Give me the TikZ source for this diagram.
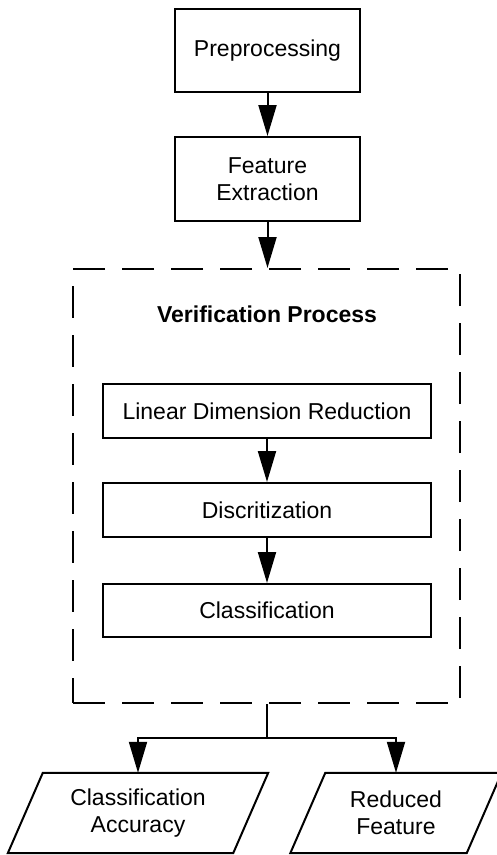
\documentclass[tikz,border=0pt]{standalone}
\usepackage{fontspec}
\setmainfont{Liberation Sans}
\usetikzlibrary{arrows.meta}
\begin{document}
\begin{tikzpicture}[x=1pt,y=-1pt,
  every node/.style={font=\fontsize{23}{27}\selectfont, align=center, inner sep=0pt},
  box/.style={draw, line width=2pt, rectangle},
  io/.style={rectangle, minimum height=80pt},
  conn/.style={line width=2pt, -{Triangle[length=31pt,width=18pt]}},
  plain/.style={line width=2pt}]
\useasboundingbox (0,0) rectangle (496,855);
% top boxes
\node[box, minimum width=185pt, minimum height=83pt] (pre) at (267.5,50.5) {Preprocessing};
\node[box, minimum width=185pt, minimum height=84pt] (fe) at (267.5,179) {Feature\\Extraction};
% dashed container
\node[draw, line width=2pt, dash pattern=on 32pt off 17pt, minimum width=387pt, minimum height=434pt] (vp) at (266.5,486) {};
\node[font=\fontsize{23}{27}\selectfont\bfseries] (title) at (267,314) {Verification Process};
% inner boxes
\node[box, minimum width=328pt, minimum height=54pt] (ldr) at (267,411) {Linear Dimension Reduction};
\node[box, minimum width=328pt, minimum height=54pt] (disc) at (267,510) {Discritization};
\node[box, minimum width=328pt, minimum height=53pt] (cls) at (267,610.5) {Classification};
% outputs
\node[io, minimum width=190pt] (acc) at (138,813) {Classification\\Accuracy};
\node[io, minimum width=141pt] (red) at (396,813) {Reduced\\Feature};
\draw[plain, line join=miter] (acc.north west) -- ([xshift=35pt]acc.north east) -- (acc.south east) -- ([xshift=-35pt]acc.south west) -- cycle;
\draw[plain, line join=miter] (red.north west) -- ([xshift=35pt]red.north east) -- (red.south east) -- ([xshift=-35pt]red.south west) -- cycle;
% connectors
\draw[conn] (pre.south) -- (fe.north);
\draw[conn] (fe.south) -- (vp.north -| fe.south);
\draw[conn] (ldr) -- (disc);
\draw[conn] (disc) -- (cls);
\coordinate (split) at (267,738);
\draw[plain] (vp.south -| split) -- (split);
\draw[conn] (split) -| (acc.north);
\draw[conn] (split) -| (red.north);
\end{tikzpicture}
\end{document}
